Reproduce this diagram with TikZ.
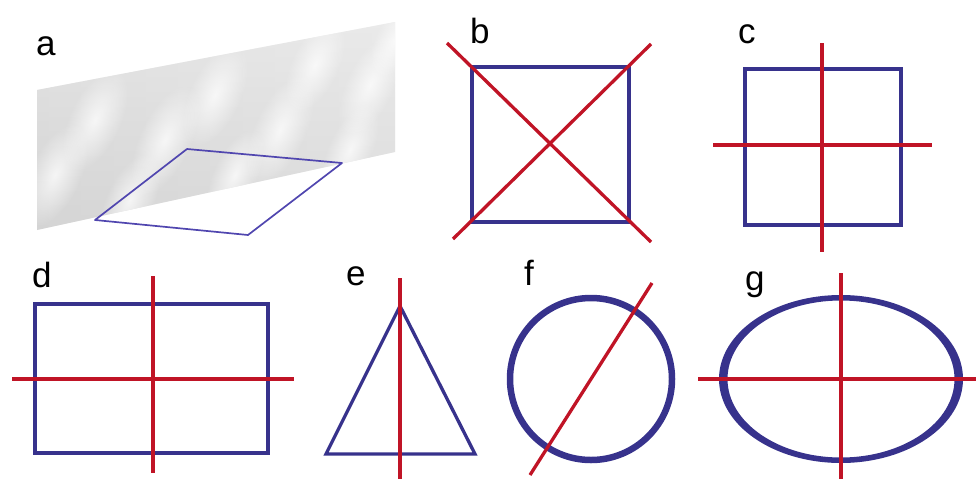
\documentclass[tikz,border=0pt]{standalone}
\usepackage{fontspec}
\setmainfont{Liberation Sans}
\usetikzlibrary{fadings}
\definecolor{shapeblue}{RGB}{55,50,140}
\definecolor{quadblue}{RGB}{80,70,175}
\definecolor{axisred}{RGB}{192,20,38}
\tikzfading[name=blob, inner color=transparent!0, outer color=transparent!100]
\begin{document}
\begin{tikzpicture}[x=1pt,y=-1pt,
  outline/.style={draw=shapeblue, line width=3.3pt, line join=miter},
  thinquad/.style={draw=quadblue, line width=1.7pt, line join=round},
  ring/.style={draw=shapeblue, line width=6.5pt},
  axisline/.style={draw=axisred, line width=3.3pt},
  lbl/.style={font=\fontsize{35}{38}\selectfont, inner sep=0pt, anchor=base west}]
\useasboundingbox (0,0) rectangle (976,479);

% ---------- panel a ----------
\begin{scope}
  \clip (37,90) -- (395,22) -- (395,152) -- (37,230) -- cycle;
  \shade[left color=gray!33, right color=gray!24] (30,15) rectangle (400,235);
  \shade[top color=gray!0, bottom color=gray!35, opacity=0.35] (30,15) rectangle (400,235);
  \foreach \cx/\cy/\a/\b in {55/175/55/26, 95/120/55/26, 130/200/50/24, 165/140/60/26,
                             215/95/55/26, 235/175/50/22, 280/130/60/26, 315/65/50/24,
                             350/150/50/22, 370/85/55/24, 395/40/40/20} {
    \begin{scope}[transform canvas={rotate around={65:(\cx,\cy)}}]
      \fill[white, path fading=blob, opacity=0.75] (\cx,\cy) ellipse ({\a} and {\b});
    \end{scope}
  }
\end{scope}
\draw[thinquad] (95,220) -- (187,149) -- (342,163) -- (248,235) -- cycle;
\node[lbl] (la) at (36,55) {a};

% ---------- panel b ----------
\draw[outline] (472,67) rectangle (629,222);
\draw[axisline] (447,43) -- (651,242);
\draw[axisline] (453,239) -- (651,44);
\node[lbl] (lb) at (470,43) {b};

% ---------- panel c ----------
\draw[outline] (745,69) rectangle (901,225);
\draw[axisline] (822,43) -- (822,252);
\draw[axisline] (713,145) -- (932,145);
\node[lbl] (lc) at (738,43) {c};

% ---------- panel d ----------
\draw[outline] (35,304) rectangle (268,453);
\draw[axisline] (153,276) -- (153,473);
\draw[axisline] (12,379) -- (294,379);
\node[lbl] (ld) at (32,287) {d};

% ---------- panel e ----------
\draw[outline] (400,306) -- (475,454) -- (326,454) -- cycle;
\draw[axisline] (400,278) -- (400,479);
\node[lbl] (le) at (346,285) {e};

% ---------- panel f ----------
\draw[ring] (591,379) circle (81);
\draw[axisline] (530,475) -- (652,283);
\node[lbl] (lf) at (524,285) {f};

% ---------- panel g ----------
\fill[shapeblue, even odd rule] (841,379) ellipse (122 and 84) (841,379) ellipse (113.5 and 78.5);
\draw[axisline] (841,273) -- (841,479);
\draw[axisline] (698,379) -- (976,379);
\node[lbl] (lg) at (745,290) {g};
\end{tikzpicture}
\end{document}
